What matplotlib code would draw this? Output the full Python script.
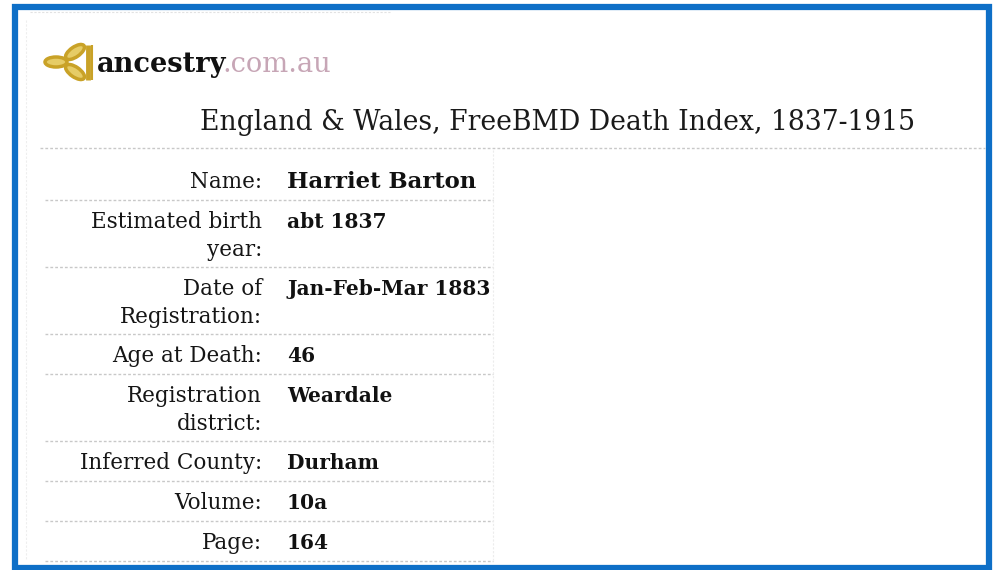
import matplotlib
matplotlib.use('Agg')
import matplotlib.pyplot as plt
from matplotlib.patches import Ellipse, Rectangle

# record contents
site_name = 'ancestry'
site_domain = '.com.au'
title = 'England & Wales, FreeBMD Death Index, 1837-1915'
field_labels = ['Name:', 'Estimated birth\nyear:', 'Date of\nRegistration:', 'Age at Death:',
                'Registration\ndistrict:', 'Inferred County:', 'Volume:', 'Page:']
field_values = ['Harriet Barton', 'abt 1837', 'Jan-Feb-Mar 1883', '46',
                'Weardale', 'Durham', '10a', '164']

W, H = 995, 570
fig = plt.figure(figsize=(W / 100, H / 100), dpi=100)
ax = fig.add_axes([0, 0, 1, 1])
ax.set_xlim(0, W)
ax.set_ylim(H, 0)
ax.axis('off')

serif = 'DejaVu Serif'
gold = '#C9A227'
sep_color = '#c8c8c8'
dots = (0, (2, 1.5))

# blue frame
ax.add_patch(Rectangle((14.5, 6.5), 974, 561, fill=False, edgecolor='#0E6FC7', lw=4.5))
# faint scan marks
ax.plot([30, 390], [12, 12], color='#e2e2e2', lw=0.8, ls=dots)
ax.plot([26, 26], [20, 560], color='#eeeeee', lw=0.8, ls=dots)

# logo: three leaves and a bar
for xy, ang in [((56, 62), 0), ((75, 52), -35), ((75, 72), 35)]:
    ax.add_patch(Ellipse(xy, 22, 10, angle=ang, facecolor='#e6cc66', edgecolor=gold, lw=2.5))
ax.plot([87.5, 87.5], [45, 80], color=gold, lw=3.5, solid_capstyle='butt')
ax.plot([92, 92], [45, 80], color=gold, lw=1.5, solid_capstyle='butt')

t = ax.text(97, 72, site_name, fontsize=19.6, fontweight='bold', family=serif,
            color='#111111', va='baseline', ha='left')
fig.canvas.draw()
bb = t.get_window_extent()
dom_x = ax.transData.inverted().transform((bb.x1, 0))[0] - 4
ax.text(dom_x, 72, site_domain, fontsize=19.6, family=serif, color='#c7a6b6',
        va='baseline', ha='left')

ax.text(915, 130, title, fontsize=19.2, family=serif, color='#1a1a1a',
        va='baseline', ha='right')
ax.plot([40, 985], [148, 148], color=sep_color, lw=1, ls=dots)

# table rows
label_x, value_x = 262, 287
line_h = 28
y = 160
for i, (lab, val) in enumerate(zip(field_labels, field_values)):
    lines = lab.split('\n')
    for k, part in enumerate(lines):
        ax.text(label_x, y + 28 + k * line_h, part, fontsize=15.5, family=serif,
                color='#151515', ha='right', va='baseline')
    ax.text(value_x, y + 28, val, fontsize=16.4 if i == 0 else 14.5, family=serif,
            fontweight='bold', color='#111111', ha='left', va='baseline')
    y += 40 + 27 * (len(lines) - 1)
    ax.plot([45, 493], [y, y], color=sep_color, lw=1, ls=dots)
ax.plot([493, 493], [150, 560], color='#ececec', lw=0.8, ls=dots)

fig.savefig('out.png', dpi=100, facecolor='white')
